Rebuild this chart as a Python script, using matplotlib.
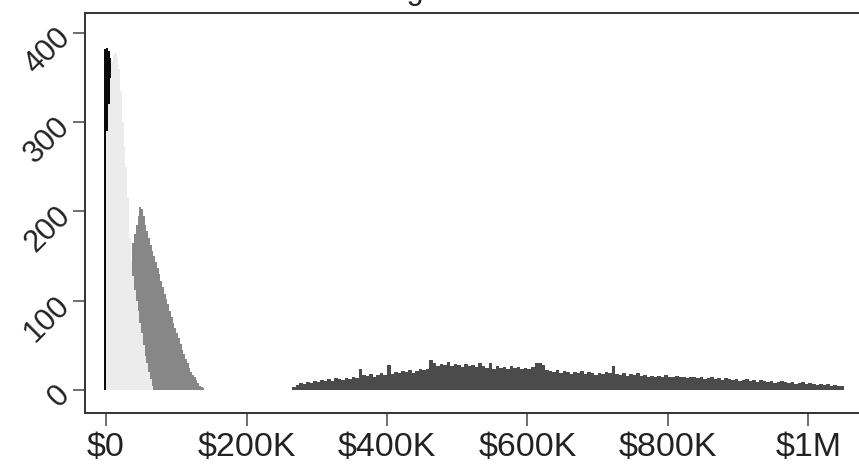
import numpy as np
import matplotlib
matplotlib.use("Agg")
import matplotlib.pyplot as plt

plt.rcParams['font.family'] = ['Liberation Sans', 'DejaVu Sans']

# ---------------- data ----------------
title = "Wage Distribution"
x_ticks = [0, 200000, 400000, 600000, 800000, 1000000]
x_labels = ["$0", "$200K", "$400K", "$600K", "$800K", "$1M"]
y_ticks = [0, 100, 200, 300, 400]
y_labels = ["0", "100", "200", "300", "400"]

# black group (narrow spike near $0)
black_start, black_width = -2500, 2500
black_counts = [382, 383, 380, 372]

# light gray group
light_start, light_width = 0, 2500
light_counts = [290, 320, 350, 368, 375, 378, 372, 360, 335, 300,
                272, 250, 215, 170, 145, 128, 112, 100, 88, 75,
                64, 50, 38, 30, 20, 12, 5]

# medium gray group
medium_start, medium_width = 37500, 2500
medium_counts = [165, 175, 185, 195, 205, 203, 195, 185, 178, 170,
                 163, 156, 150, 143, 137, 130, 122, 115, 108, 102,
                 96, 89, 82, 75, 70, 64, 58, 51, 45, 40,
                 35, 30, 25, 20, 17, 14, 11, 8, 5, 3, 2]

# dark gray group (wide, flat)
dark_start, dark_width = 265000, 5000
dark_counts = [3, 6, 8, 7, 9, 8, 10, 9, 11, 10,
               12, 10, 13, 12, 11, 13, 12, 14, 13, 23,
               17, 16, 18, 15, 17, 19, 17, 28, 18, 20,
               19, 21, 20, 22, 19, 21, 23, 22, 24, 34,
               30, 27, 29, 28, 31, 27, 29, 28, 26, 29,
               27, 28, 26, 30, 27, 25, 30, 24, 27, 25,
               26, 24, 27, 25, 26, 24, 25, 23, 26, 30,
               30, 28, 22, 21, 20, 22, 19, 21, 20, 18,
               20, 19, 21, 18, 20, 19, 17, 19, 18, 20,
               19, 27, 18, 17, 19, 16, 18, 17, 19, 16,
               17, 15, 16, 14, 16, 15, 17, 14, 15, 16,
               14, 15, 13, 15, 14, 13, 15, 12, 13, 14,
               12, 13, 11, 13, 12, 11, 12, 10, 11, 12,
               10, 11, 9, 11, 10, 9, 10, 8, 9, 10,
               9, 8, 9, 7, 8, 9, 7, 8, 7, 6,
               7, 6, 7, 5, 6, 5, 4]


def edges(start, width, counts):
    return start + width * np.arange(len(counts) + 1)


# ---------------- figure ----------------
W, H = 859, 470
fig = plt.figure(figsize=(W / 100, H / 100), dpi=100)
ax = fig.add_axes([85 / W, 1 - 413 / H, 778 / W, 400 / H])

ax.stairs(dark_counts, edges(dark_start, dark_width, dark_counts),
          fill=True, color='#4b4b4b', linewidth=0)
ax.stairs(medium_counts, edges(medium_start, medium_width, medium_counts),
          fill=True, color='#878787', linewidth=0)
ax.stairs(black_counts, edges(black_start, black_width, black_counts),
          fill=True, color='#0a0a0a', linewidth=0)
ax.stairs(light_counts, edges(light_start, light_width, light_counts),
          fill=True, color='#ececec', linewidth=0)

ax.set_xlim(-29900, 1077600)
ax.set_ylim(-25.8, 422.4)

ax.set_xticks(x_ticks)
ax.set_xticklabels(x_labels)
ax.set_yticks(y_ticks)
ax.set_yticklabels(y_labels, rotation=45, ha='right', va='center',
                   rotation_mode='anchor')

for s in ax.spines.values():
    s.set_color('#333333')
    s.set_linewidth(1.4)

ax.tick_params(axis='both', direction='out', length=9, width=1.2,
               color='#555555', labelcolor='#222222')
ax.tick_params(axis='x', pad=4.5, labelsize=24.5)
ax.tick_params(axis='y', pad=5, labelsize=22)

fig.text(481 / W, 1 + 1 / H, title, ha='center', va='baseline',
         fontsize=22, color='#222222')

fig.savefig("out.png", dpi=100)
